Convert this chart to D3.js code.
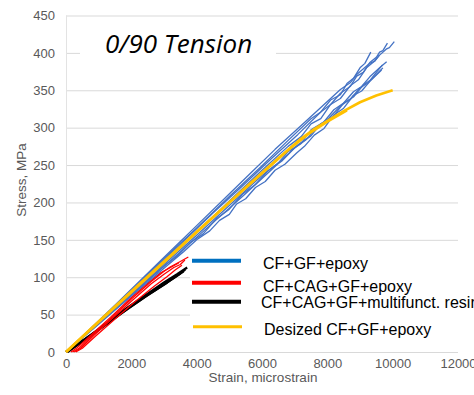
<!DOCTYPE html>
<html>
<head>
<meta charset="utf-8">
<script src="https://cdn.jsdelivr.net/npm/d3@7"></script>
<style>
  body { margin: 0; background: #fff; }
  svg { display: block; }
</style>
</head>
<body>
<svg id="chart" width="474" height="395"></svg>
<script>
// tick values
const xTicks = [0, 2000, 4000, 6000, 8000, 10000, 12000];
const yTicks = [0, 50, 100, 150, 200, 250, 300, 350, 400, 450];

// [strain (microstrain), stress (MPa)]
const blue1 = [[0,0],[800,33],[1600,67],[2400,101],[3200,135],[4000,169],[4800,203],[5600,237],[6400,271],[7200,303],[7800,327],[8400,351],[8700,360],[8900,371],[9300,386],[9450,389],[9600,397],[9800,405],[9900,407],[10050,415]];
const blue2 = [[0,0],[900,37],[1800,74],[2700,111],[3600,148],[4500,186],[5400,222],[6300,259],[7100,291],[7800,321],[8100,331],[8400,346],[8700,355],[8900,369],[9100,374],[9300,387],[9500,394],[9600,401],[9700,403],[9840,413]];
const blue3 = [[0,0],[1000,41],[2000,83],[3000,125],[4000,166],[5000,208],[6000,249],[6800,283],[7500,312],[7800,321],[8100,337],[8400,344],[8600,359],[8800,366],[9000,380],[9150,386],[9330,401]];
const blue4 = [[0,0],[1000,40],[2000,80],[3000,120],[4000,160],[5000,202],[6000,243],[6800,275],[7200,288],[7500,305],[7800,312],[8100,331],[8400,339],[8700,356],[8950,364],[9200,380],[9450,389],[9590,397]];
const blue5 = [[0,0],[1000,39],[2000,78],[3000,117],[4000,156],[5000,196],[6000,236],[6500,253],[6800,268],[7200,279],[7500,297],[7900,308],[8200,324],[8500,333],[8800,348],[9050,355],[9300,368],[9600,380],[9815,388]];
const blue6 = [[0,0],[1100,42],[2200,84],[3300,126],[4400,169],[5400,208],[6300,244],[7100,277],[7500,289],[7800,305],[8200,316],[8500,333],[8800,341],[9100,357],[9300,363],[9500,374],[9690,384]];
const blue7 = [[0,0],[1000,37],[2000,75],[3000,112],[3600,134],[4000,150],[4400,162],[4700,176],[5000,184],[5225,198],[5500,205],[5800,220],[6100,228],[6400,243],[6700,251],[7060,266],[7300,275],[7600,290],[7900,299],[8200,317],[8500,326],[8800,343],[9050,349],[9300,362],[9660,377]];
const blue8 = [[0,0],[1000,38],[2000,77],[3000,115],[3400,128],[3800,146],[4200,158],[4600,178],[5000,191],[5400,211],[5800,224],[6200,243],[6600,255],[7000,273],[7350,284],[7700,301],[8050,313],[8400,329],[8700,338],[9000,353],[9250,360],[9500,371],[9700,380]];
const blueSeries = [blue1, blue2, blue3, blue4, blue5, blue6, blue7, blue8];

const red1 = [[200,0],[400,5],[800,22],[1400,46],[2000,71],[2600,94],[3000,108],[3200,114],[3500,121],[3745,127]];
const red2 = [[250,0],[450,5],[850,22],[1400,44],[2000,68],[2600,91],[3000,104],[3300,113],[3500,117],[3640,123]];
const red3 = [[150,0],[350,6],[800,24],[1400,48],[2000,73],[2500,92],[2900,106],[3200,113],[3450,119]];
const red4 = [[300,0],[500,5],[900,21],[1500,44],[2100,67],[2700,88],[3100,101],[3350,110],[3550,116]];
const redSeries = [red1, red2, red3, red4];

const black1 = [[0,0],[600,18],[1200,37],[1800,57],[2400,75],[3000,93],[3400,104],[3710,113]];
const black2 = [[50,0],[700,20],[1300,39],[1900,58],[2500,76],[3100,93],[3500,105],[3650,110]];
const black3 = [[0,0],[800,24],[1600,49],[2400,73],[3000,90],[3600,108]];
const blackSeries = [black1, black2, black3];

const yellow1 = [[0,0],[1000,40],[2000,80],[3000,120],[3500,140],[4500,180],[5500,220],[6500,259],[7160,284],[7600,298],[8080,311],[8500,322],[9000,334],[9500,343],[10000,350]];
const yellow2 = [[0,0],[1000,41],[2000,81],[3000,121],[4000,161],[5000,200],[6000,239],[6800,270],[7400,291],[8000,308],[8600,323]];
const yellowSeries = [yellow1, yellow2];

const legendLabels = ["CF+GF+epoxy", "CF+CAG+GF+epoxy", "CF+CAG+GF+multifunct. resin", "Desized CF+GF+epoxy"];
const legendColors = ["#0070C0", "#FF0000", "#000000", "#FFC000"];

const svg = d3.select("#chart");

const x = d3.scaleLinear().domain([0, 12000]).range([66, 458]);
const y = d3.scaleLinear().domain([0, 450]).range([352, 15.5]);

// gridlines + y labels
const yAxis = svg.append("g")
  .attr("transform", "translate(66,0)")
  .call(d3.axisLeft(y).tickValues(yTicks).tickSize(-(458 - 66)).tickPadding(11));
yAxis.select(".domain").remove();
yAxis.selectAll("line").attr("stroke", "#d9d9d9");
yAxis.selectAll("text")
  .attr("fill", "#595959")
  .style("font", "13px 'Liberation Sans', Arial, sans-serif");

// left axis line
svg.append("line")
  .attr("x1", 66.5).attr("x2", 66.5)
  .attr("y1", y(450)).attr("y2", y(0))
  .attr("stroke", "#e3e3e3");

// x labels
const xAxis = svg.append("g")
  .attr("transform", "translate(0,352)")
  .call(d3.axisBottom(x).tickValues(xTicks).tickSize(0).tickPadding(7).tickFormat(d3.format("d")));
xAxis.select(".domain").remove();
xAxis.selectAll("text")
  .attr("fill", "#595959")
  .style("font", "13px 'Liberation Sans', Arial, sans-serif");

// axis titles
svg.append("text")
  .attr("transform", "translate(26,180) rotate(-90)")
  .attr("text-anchor", "middle")
  .attr("fill", "#595959")
  .style("font", "13.5px 'Liberation Sans', Arial, sans-serif")
  .text("Stress, MPa");

svg.append("text")
  .attr("x", 263).attr("y", 382)
  .attr("text-anchor", "middle")
  .attr("fill", "#595959")
  .style("font", "13.5px 'Liberation Sans', Arial, sans-serif")
  .text("Strain, microstrain");

// title box
svg.append("rect")
  .attr("x", 80).attr("y", 19).attr("width", 196).attr("height", 62)
  .attr("fill", "#fff");
svg.append("text")
  .attr("x", 105).attr("y", 53)
  .style("font", "italic 26px 'Open Sans', sans-serif")
  .attr("fill", "#000")
  .text("0/90 Tension");

// curves
const line = d3.line().x(d => x(d[0])).y(d => y(d[1]));

function drawSet(series, color, width) {
  svg.append("g").selectAll("path")
    .data(series)
    .enter()
    .append("path")
    .attr("d", line)
    .attr("fill", "none")
    .attr("stroke", color)
    .attr("stroke-width", width)
    .attr("stroke-linejoin", "round");
}

drawSet(blackSeries, "#000000", 2.2);
drawSet(redSeries, "#FF0000", 1.3);
drawSet(blueSeries, "#4472C4", 1.3);
drawSet(yellowSeries, "#FFC000", 2.6);

// legend
svg.append("rect")
  .attr("x", 190).attr("y", 249).attr("width", 290).attr("height", 93)
  .attr("fill", "#fff");

const legendY = [260.7, 282.7, 301.7, 326.7];
const textY = [269, 292, 308, 335];
const textX = [263, 263, 261, 264];

const leg = svg.append("g");
leg.selectAll("line")
  .data(legendLabels)
  .enter()
  .append("line")
  .attr("x1", (d, i) => i === 3 ? 193 : 192)
  .attr("x2", (d, i) => i === 3 ? 242 : 241)
  .attr("y1", (d, i) => legendY[i])
  .attr("y2", (d, i) => legendY[i])
  .attr("stroke", (d, i) => legendColors[i])
  .attr("stroke-width", (d, i) => i === 3 ? 3 : 4);

leg.selectAll("text")
  .data(legendLabels)
  .enter()
  .append("text")
  .attr("x", (d, i) => textX[i])
  .attr("y", (d, i) => textY[i])
  .attr("fill", "#000")
  .style("font", "16px 'Liberation Sans', Arial, sans-serif")
  .text(d => d);
</script>
</body>
</html>
